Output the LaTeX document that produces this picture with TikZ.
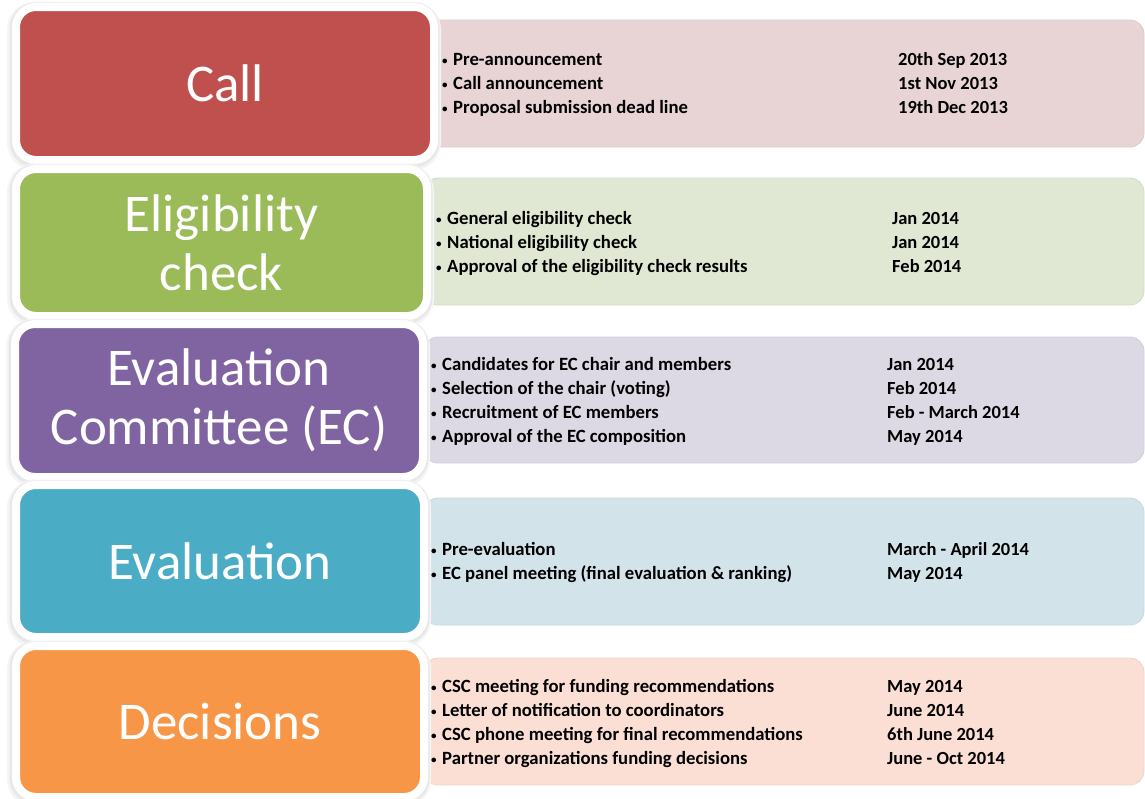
\documentclass[tikz,border=0pt]{standalone}
\usepackage{fontspec}
\setmainfont{Carlito}
\newcommand{\itembul}{\raisebox{1.2pt}{\fontsize{11}{11}\selectfont\textbullet}\hspace{5.5pt}}

\begin{document}
\begin{tikzpicture}[
  x=1pt, y=-1pt,
  phase/.style={draw=white, line width=8pt, rounded corners=20pt,
    text=white, font=\fontsize{53}{59}\selectfont, align=center,
    inner sep=0pt,
    preaction={draw=black!4, line width=16pt, transform canvas={shift={(-1pt,-2.5pt)}}},
    preaction={draw=black!9, line width=12pt, transform canvas={shift={(-0.5pt,-1.5pt)}}}},
  panel/.style={rounded corners=14pt, inner sep=0pt, line width=0.8pt},
  item/.style={anchor=base west, inner sep=0pt, font=\fontsize{18.7}{21}\selectfont\bfseries},
  date/.style={item, font=\fontsize{18.5}{21}\selectfont\bfseries},
]
\definecolor{callc}{HTML}{C0504D}
\definecolor{eligc}{HTML}{9BBB59}
\definecolor{ecc}{HTML}{8064A2}
\definecolor{evalc}{HTML}{4BACC6}
\definecolor{decc}{HTML}{F79646}
\definecolor{callp}{HTML}{E8D4D4}
\definecolor{eligp}{HTML}{E0E8D3}
\definecolor{ecp}{HTML}{DCD8E4}
\definecolor{evalp}{HTML}{D2E4EA}
\definecolor{decp}{HTML}{FBDFD4}

\useasboundingbox (0,0) rectangle (1145,798);

% panels behind
\node [panel, fill=callp, draw=callp!95!black, minimum width=720pt, minimum height=127pt] (callpanel) at (784,83.5) {};
\node [panel, fill=eligp, draw=eligp!95!black, minimum width=720pt, minimum height=127pt] (eligpanel) at (784,241.5) {};
\node [panel, fill=ecp, draw=ecp!95!black, minimum width=720pt, minimum height=126pt] (ecpanel) at (784,400) {};
\node [panel, fill=evalp, draw=evalp!95!black, minimum width=720pt, minimum height=127pt] (evalpanel) at (784,561.5) {};
\node [panel, fill=decp, draw=decp!95!black, minimum width=720pt, minimum height=127pt] (decpanel) at (784,721.5) {};

% phases
\node [phase, fill=callc, minimum width=418pt, minimum height=153pt] (call) at (225,83.5) {Call};
\node [phase, fill=eligc, minimum width=411pt, minimum height=147pt] (elig) at (221.5,242.5) {Eligibility\\check};
\node [phase, fill=ecc, minimum width=408pt, minimum height=153pt] (ec) at (219,400.5) {Evaluation\\Committee (EC)};
\node [phase, fill=evalc, minimum width=408pt, minimum height=152pt] (eval) at (220,561) {Evaluation};
\node [phase, fill=decc, minimum width=408pt, minimum height=151pt] (dec) at (220,721.5) {Decisions};

% call
\node [item] (call1) at (442,65.7) {\itembul Pre-announcement};
\node [item] (call2) at (442,89.7) {\itembul Call announcement};
\node [item] (call3) at (442,113.7) {\itembul Proposal submission dead line};
\node [date] (call1d) at (898,65.7) {20th Sep 2013};
\node [date] (call2d) at (898,89.7) {1st Nov 2013};
\node [date] (call3d) at (898,113.7) {19th Dec 2013};

% eligibility
\node [item] (elig1) at (436,224.5) {\itembul General eligibility check};
\node [item] (elig2) at (436,248.5) {\itembul National eligibility check};
\node [item] (elig3) at (436,272.5) {\itembul Approval of the eligibility check results};
\node [date] (elig1d) at (892,224.5) {Jan 2014};
\node [date] (elig2d) at (892,248.5) {Jan 2014};
\node [date] (elig3d) at (892,272.5) {Feb 2014};

% evaluation committee
\node [item] (ec1) at (431,370.5) {\itembul Candidates for EC chair and members};
\node [item] (ec2) at (431,394.5) {\itembul Selection of the chair (voting)};
\node [item] (ec3) at (431,418.5) {\itembul Recruitment of EC members};
\node [item] (ec4) at (431,442.5) {\itembul Approval of the EC composition};
\node [date] (ec1d) at (887,370.5) {Jan 2014};
\node [date] (ec2d) at (887,394.5) {Feb 2014};
\node [date] (ec3d) at (887,418.5) {Feb - March 2014};
\node [date] (ec4d) at (887,442.5) {May 2014};

% evaluation
\node [item] (eval1) at (431,555.5) {\itembul Pre-evaluation};
\node [item] (eval2) at (431,579.5) {\itembul EC panel meeting (final evaluation \& ranking)};
\node [date] (eval1d) at (887,555.5) {March - April 2014};
\node [date] (eval2d) at (887,579.5) {May 2014};

% decisions
\node [item] (dec1) at (431,692.5) {\itembul CSC meeting for funding recommendations};
\node [item] (dec2) at (431,716.5) {\itembul Letter of notification to coordinators};
\node [item] (dec3) at (431,740.5) {\itembul CSC phone meeting for final recommendations};
\node [item] (dec4) at (431,764.5) {\itembul Partner organizations funding decisions};
\node [date] (dec1d) at (887,692.5) {May 2014};
\node [date] (dec2d) at (887,716.5) {June 2014};
\node [date] (dec3d) at (887,740.5) {6th June 2014};
\node [date] (dec4d) at (887,764.5) {June - Oct 2014};

\end{tikzpicture}
\end{document}
